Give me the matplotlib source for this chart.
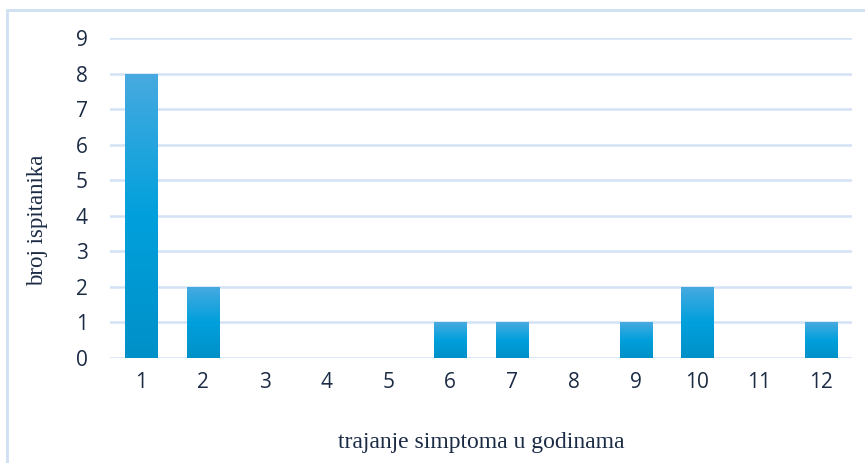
import matplotlib.pyplot as plt
import numpy as np
from matplotlib.colors import LinearSegmentedColormap
from matplotlib.patches import Rectangle

years = [1, 2, 3, 4, 5, 6, 7, 8, 9, 10, 11, 12]
counts = [8, 2, 0, 0, 0, 1, 1, 0, 1, 2, 0, 1]
y_ticks = list(range(0, 10))

x_label = "trajanje simptoma u godinama"
y_label = "broj ispitanika"

fig = plt.figure(figsize=(8.65, 4.63), dpi=100)
ax = fig.add_axes([110 / 865, 1 - 358 / 463, 742 / 865, 320 / 463])

# outer light-blue frame
fig.patches.append(Rectangle((7 / 865, -0.01), 1.0, 1 - 10 / 463 + 0.01,
                             transform=fig.transFigure, fill=False,
                             edgecolor='#cfe0f3', linewidth=2))

grad = LinearSegmentedColormap.from_list('bar', ['#0090c8', '#00a0dc', '#48aae0'])
gradient = np.linspace(0, 1, 256).reshape(-1, 1)

width = 0.52
for x, v in zip(years, counts):
    if v == 0:
        continue
    bar = ax.bar(x, v, width=width, color='none', edgecolor='none', zorder=3)[0]
    img = ax.imshow(gradient, cmap=grad, aspect='auto', origin='lower',
                    extent=[x - width / 2, x + width / 2, 0, v], zorder=3)
    img.set_clip_path(bar)

ax.set_xlim(0.5, 12.5)
ax.set_ylim(0, 9)
ax.set_xticks(years)
ax.set_yticks(y_ticks)
ax.grid(axis='y', color='#d3e2f4', linewidth=1.8, zorder=0)
ax.set_axisbelow(True)
for s in ax.spines.values():
    s.set_visible(False)
ax.tick_params(length=0, labelsize=15, colors='#1b2b45', pad=10)
ax.tick_params(axis='y', pad=16)
for lab in ax.get_xticklabels() + ax.get_yticklabels():
    lab.set_fontfamily('Open Sans')

ax.set_xlabel(x_label, fontfamily='Liberation Serif', fontsize=17, color='#1b2b45', labelpad=28)
ax.set_ylabel(y_label, fontfamily='Liberation Serif', fontsize=16.5, color='#1b2b45')
ax.yaxis.set_label_coords(-0.084, 0.43)

fig.savefig('out.png', dpi=100)
